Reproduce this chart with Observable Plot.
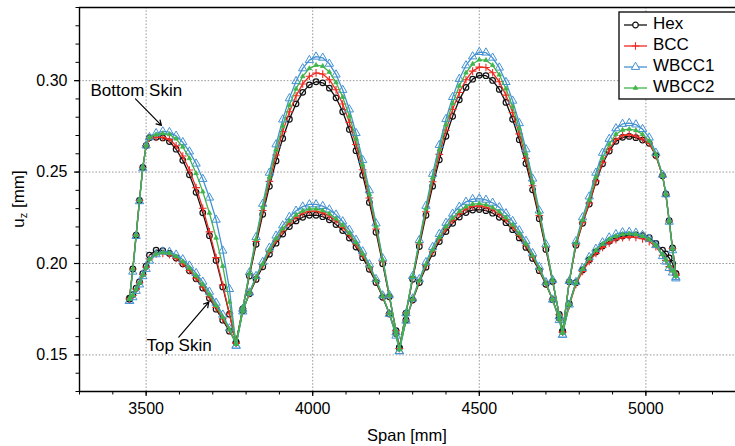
<!DOCTYPE html>
<html><head><meta charset="utf-8">
<script src="https://cdn.jsdelivr.net/npm/d3@7"></script>
<script src="https://cdn.jsdelivr.net/npm/@observablehq/plot@0.6"></script>
<style>
html,body{margin:0;padding:0;background:#fff;}
#chart{width:735px;height:446px;}
</style></head><body><div id="chart"></div>
<script>
const spanMm = [3450,3460,3470,3480,3490,3500,3510,3530,3550,3570,3590,3610,3630,3650,3670,3690,3710,3730,3750,3770,
3790,3810,3830,3850,3870,3890,3910,3930,3950,3970,3990,4010,4030,4050,4070,4090,4110,4130,4150,4170,4190,4210,4230,4250,4260,
4280,4300,4320,4340,4360,4380,4400,4420,4440,4460,4480,4500,4520,4540,4560,4580,4600,4620,4640,4660,4680,4700,4720,4740,4750,
4770,4790,4810,4830,4850,4870,4890,4910,4930,4950,4970,4990,5010,5030,5050,5060,5070,5080,5090];

const bottomHex = [0.1810,0.1970,0.2155,0.2345,0.2525,0.2645,0.2688,0.2690,0.2687,0.2667,0.2625,0.2564,0.2485,0.2389,0.2277,0.2152,0.2017,0.1872,0.1723,0.1570,
0.1752,0.1932,0.2105,0.2269,0.2422,0.2561,0.2684,0.2789,0.2873,0.2936,0.2977,0.2994,0.2988,0.2959,0.2906,0.2830,0.2733,0.2617,0.2483,0.2334,0.2171,0.1999,0.1818,0.1633,0.1540,
0.1728,0.1914,0.2093,0.2264,0.2423,0.2567,0.2696,0.2805,0.2895,0.2963,0.3008,0.3029,0.3027,0.3001,0.2952,0.2881,0.2789,0.2677,0.2547,0.2403,0.2245,0.2077,0.1901,0.1721,0.1630,
0.1900,0.2100,0.2220,0.2325,0.2445,0.2545,0.2615,0.2668,0.2690,0.2695,0.2688,0.2675,0.2657,0.2590,0.2480,0.2380,0.2235,0.2085,0.1945];

const bottomBCC = [0.1810,0.1970,0.2155,0.2345,0.2525,0.2645,0.2685,0.2690,0.2690,0.2679,0.2644,0.2588,0.2511,0.2415,0.2302,0.2173,0.2032,0.1882,0.1725,0.1565,
0.1754,0.1940,0.2120,0.2290,0.2449,0.2593,0.2721,0.2829,0.2917,0.2982,0.3024,0.3042,0.3036,0.3005,0.2950,0.2872,0.2772,0.2651,0.2513,0.2358,0.2189,0.2010,0.1823,0.1632,0.1535,
0.1730,0.1921,0.2107,0.2283,0.2447,0.2597,0.2729,0.2843,0.2935,0.3005,0.3052,0.3074,0.3072,0.3043,0.2994,0.2921,0.2825,0.2709,0.2575,0.2425,0.2262,0.2088,0.1906,0.1719,0.1625,
0.1899,0.2102,0.2223,0.2330,0.2452,0.2553,0.2624,0.2678,0.2700,0.2705,0.2697,0.2680,0.2658,0.2590,0.2478,0.2378,0.2232,0.2082,0.1942];

const bottomWBCC1 = [0.1795,0.1955,0.2150,0.2340,0.2520,0.2645,0.2690,0.2712,0.2722,0.2718,0.2698,0.2663,0.2612,0.2546,0.2462,0.2360,0.2239,0.2070,0.1860,0.1550,
0.1752,0.1951,0.2144,0.2326,0.2496,0.2651,0.2787,0.2903,0.2997,0.3067,0.3112,0.3131,0.3125,0.3092,0.3033,0.2949,0.2842,0.2713,0.2565,0.2400,0.2219,0.2028,0.1828,0.1623,0.1520,
0.1727,0.1931,0.2128,0.2315,0.2490,0.2648,0.2790,0.2910,0.3009,0.3083,0.3132,0.3156,0.3153,0.3125,0.3071,0.2992,0.2890,0.2767,0.2624,0.2464,0.2289,0.2104,0.1910,0.1711,0.1610,
0.1904,0.2121,0.2252,0.2366,0.2496,0.2605,0.2681,0.2739,0.2763,0.2768,0.2760,0.2735,0.2688,0.2605,0.2485,0.2378,0.2228,0.2072,0.1925];

const bottomWBCC2 = [0.1810,0.1970,0.2155,0.2345,0.2525,0.2645,0.2690,0.2705,0.2711,0.2706,0.2682,0.2638,0.2575,0.2493,0.2393,0.2276,0.2140,0.1986,0.1790,0.1560,
0.1755,0.1947,0.2133,0.2309,0.2473,0.2622,0.2753,0.2865,0.2955,0.3023,0.3067,0.3085,0.3079,0.3047,0.2990,0.2910,0.2806,0.2682,0.2539,0.2379,0.2205,0.2020,0.1828,0.1630,0.1530,
0.1730,0.1928,0.2118,0.2300,0.2469,0.2623,0.2759,0.2876,0.2971,0.3043,0.3091,0.3114,0.3112,0.3084,0.3032,0.2956,0.2857,0.2738,0.2600,0.2445,0.2277,0.2097,0.1910,0.1717,0.1620,
0.1903,0.2112,0.2238,0.2348,0.2473,0.2578,0.2651,0.2707,0.2730,0.2735,0.2728,0.2706,0.2670,0.2597,0.2482,0.2380,0.2232,0.2080,0.1938];

const topHex = [0.1805,0.1830,0.1865,0.1900,0.1945,0.1985,0.2045,0.2073,0.2070,0.2055,0.2030,0.1998,0.1960,0.1916,0.1866,0.1810,0.1750,0.1690,0.1630,0.1570,
0.1741,0.1834,0.1913,0.1982,0.2051,0.2111,0.2161,0.2202,0.2233,0.2253,0.2264,0.2264,0.2256,0.2239,0.2213,0.2180,0.2139,0.2090,0.2032,0.1968,0.1896,0.1815,0.1724,0.1617,0.1540,
0.1691,0.1800,0.1896,0.1980,0.2055,0.2120,0.2175,0.2220,0.2254,0.2279,0.2292,0.2295,0.2289,0.2275,0.2253,0.2223,0.2185,0.2140,0.2088,0.2028,0.1961,0.1886,0.1802,0.1701,0.1630,
0.1780,0.1895,0.1965,0.2020,0.2063,0.2096,0.2121,0.2139,0.2150,0.2155,0.2156,0.2152,0.2142,0.2110,0.2073,0.2052,0.2030,0.2000,0.1945];

const topBCC = [0.1805,0.1825,0.1860,0.1895,0.1940,0.1980,0.2025,0.2052,0.2055,0.2048,0.2028,0.1998,0.1962,0.1920,0.1872,0.1818,0.1760,0.1698,0.1635,0.1565,
0.1742,0.1838,0.1921,0.1993,0.2065,0.2127,0.2179,0.2222,0.2253,0.2275,0.2286,0.2286,0.2277,0.2260,0.2234,0.2199,0.2156,0.2105,0.2046,0.1979,0.1904,0.1820,0.1726,0.1615,0.1535,
0.1691,0.1804,0.1903,0.1990,0.2067,0.2134,0.2191,0.2237,0.2273,0.2298,0.2312,0.2315,0.2308,0.2294,0.2271,0.2240,0.2201,0.2154,0.2100,0.2038,0.1968,0.1891,0.1803,0.1699,0.1625,
0.1770,0.1885,0.1957,0.2012,0.2055,0.2088,0.2113,0.2130,0.2141,0.2145,0.2143,0.2135,0.2120,0.2092,0.2045,0.2017,0.1983,0.1958,0.1935];

const topWBCC1 = [0.1795,0.1815,0.1850,0.1885,0.1930,0.1970,0.2015,0.2050,0.2065,0.2063,0.2048,0.2022,0.1988,0.1947,0.1900,0.1845,0.1785,0.1720,0.1645,0.1550,
0.1737,0.1841,0.1931,0.2008,0.2086,0.2152,0.2208,0.2254,0.2288,0.2311,0.2323,0.2323,0.2314,0.2295,0.2267,0.2230,0.2184,0.2129,0.2066,0.1995,0.1914,0.1825,0.1724,0.1605,0.1520,
0.1687,0.1808,0.1914,0.2007,0.2090,0.2161,0.2222,0.2272,0.2310,0.2337,0.2352,0.2355,0.2348,0.2332,0.2307,0.2274,0.2232,0.2181,0.2123,0.2056,0.1981,0.1897,0.1802,0.1690,0.1610,
0.1775,0.1898,0.1975,0.2035,0.2080,0.2115,0.2142,0.2160,0.2170,0.2172,0.2168,0.2155,0.2135,0.2100,0.2040,0.2010,0.1975,0.1950,0.1918];

const topWBCC2 = [0.1805,0.1825,0.1860,0.1893,0.1938,0.1978,0.2022,0.2052,0.2060,0.2056,0.2038,0.2010,0.1975,0.1933,0.1885,0.1830,0.1770,0.1707,0.1640,0.1560,
0.1740,0.1839,0.1924,0.1998,0.2072,0.2136,0.2190,0.2233,0.2266,0.2288,0.2299,0.2299,0.2290,0.2272,0.2245,0.2210,0.2166,0.2114,0.2053,0.1985,0.1908,0.1822,0.1726,0.1612,0.1530,
0.1689,0.1805,0.1906,0.1995,0.2074,0.2143,0.2201,0.2249,0.2285,0.2311,0.2325,0.2328,0.2321,0.2306,0.2283,0.2251,0.2211,0.2163,0.2107,0.2044,0.1972,0.1893,0.1803,0.1696,0.1620,
0.1775,0.1895,0.1970,0.2028,0.2072,0.2106,0.2133,0.2150,0.2160,0.2163,0.2160,0.2150,0.2132,0.2100,0.2050,0.2020,0.1985,0.1960,0.1930];

const seriesNames = ["Hex", "BCC", "WBCC1", "WBCC2"];
const seriesColors = ["#111111", "#ee2b22", "#4592d3", "#3fb54a"];
const xTicks = [3500, 4000, 4500, 5000];
const yTicks = [0.15, 0.20, 0.25, 0.30];
const xMinorTicks = [3300,3400,3500,3600,3700,3800,3900,4000,4100,4200,4300,4400,4500,4600,4700,4800,4900,5000,5100,5200];
const yMinorTicks = [0.13,0.14,0.15,0.16,0.17,0.18,0.19,0.20,0.21,0.22,0.23,0.24,0.25,0.26,0.27,0.28,0.29,0.30,0.31,0.32,0.33,0.34];
const annotationLabels = ["Bottom Skin", "Top Skin"];
const annotationX = [3333, 3501];
const annotationY = [0.2946, 0.1552];
const arrowX1 = [3468, 3598];
const arrowY1 = [0.2900, 0.1597];
const arrowX2 = [3546, 3688];
const arrowY2 = [0.2755, 0.1789];

const bottomSets = {Hex: bottomHex, BCC: bottomBCC, WBCC1: bottomWBCC1, WBCC2: bottomWBCC2};
const topSets = {Hex: topHex, BCC: topBCC, WBCC1: topWBCC1, WBCC2: topWBCC2};

const rows = [];
for (const name of seriesNames) {
  spanMm.forEach((s, i) => rows.push({series: name, skin: "Bottom", span: s, uz: bottomSets[name][i]}));
  spanMm.forEach((s, i) => rows.push({series: name, skin: "Top", span: s, uz: topSets[name][i]}));
}
const annotations = annotationLabels.map((t, i) => ({text: t, x: annotationX[i], y: annotationY[i]}));
const arrows = arrowX1.map((x, i) => ({x1: x, y1: arrowY1[i], x2: arrowX2[i], y2: arrowY2[i]}));

const markerStyle = {
  Hex:   {symbol: "circle", r: 2.8, fill: "none", strokeWidth: 1.2},
  BCC:   {symbol: "plus", r: 2.6, fill: "none", strokeWidth: 1.1},
  WBCC1: {symbol: "triangle", r: 3.1, fill: "none", strokeWidth: 1.0},
  WBCC2: {symbol: "triangle", r: 1.7, fill: "currentColor", strokeWidth: 0.8}
};

const FONT = "'Liberation Sans', Arial, Helvetica, sans-serif";
const marks = [
  Plot.gridX(xTicks, {stroke: "#8a8a8a", strokeOpacity: 1, strokeWidth: 0.9, strokeDasharray: "1.5,1.8"}),
  Plot.gridY(yTicks, {stroke: "#8a8a8a", strokeOpacity: 1, strokeWidth: 0.9, strokeDasharray: "1.5,1.8"}),
  Plot.axisX(xMinorTicks, {tickSize: 3.5, tickFormat: () => "", label: null, strokeWidth: 1}),
  Plot.axisX(xTicks, {tickSize: 5, tickPadding: 6, tickFormat: d => String(d), fontSize: 16, label: null, strokeWidth: 1.2}),
  Plot.axisY(yMinorTicks, {tickSize: 3.5, tickFormat: () => "", label: null, strokeWidth: 1}),
  Plot.axisY(yTicks, {tickSize: 5, tickPadding: 7, tickFormat: d3.format(".2f"), fontSize: 16, label: null, strokeWidth: 1.2}),
  Plot.ruleX([3300], {stroke: "#000", strokeWidth: 1.4}),
  Plot.ruleY([0.13], {stroke: "#000", strokeWidth: 1.4}),
  Plot.ruleY([0.34], {stroke: "#000", strokeWidth: 1.4})
];
seriesNames.forEach((name, k) => {
  const data = rows.filter(d => d.series === name);
  const col = seriesColors[k];
  const ms = markerStyle[name];
  marks.push(Plot.line(data, {x: "span", y: "uz", z: "skin", stroke: col, strokeWidth: 1.3}));
  marks.push(Plot.dot(data, {x: "span", y: "uz", symbol: ms.symbol, r: ms.r, stroke: col,
    fill: ms.fill === "currentColor" ? col : ms.fill, strokeWidth: ms.strokeWidth}));
});
marks.push(Plot.arrow(arrows, {x1: "x1", y1: "y1", x2: "x2", y2: "y2", stroke: "#000", strokeWidth: 1.2, headLength: 7, inset: 0}));
marks.push(Plot.text(annotations, {x: "x", y: "y", text: "text", textAnchor: "start", lineAnchor: "middle", fontSize: 17, fill: "#000"}));

const chart = Plot.plot({
  width: 735, height: 446,
  marginLeft: 79, marginRight: 0, marginTop: 7, marginBottom: 55,
  x: {domain: [3300, 5269]},
  y: {domain: [0.13, 0.34]},
  style: {fontFamily: FONT, fontSize: "16px", background: "#fff", color: "#000", overflow: "visible"},
  marks
});
document.getElementById("chart").appendChild(chart);

const svg = d3.select(chart);
// axis titles
svg.append("text").attr("x", 407).attr("y", 437).attr("text-anchor", "middle")
  .attr("dominant-baseline", "middle").style("font", `16.5px ${FONT}`).attr("fill", "#000").text("Span [mm]");
const yl = svg.append("text").attr("transform", "translate(20,199) rotate(-90)").attr("text-anchor", "middle")
  .style("font", `17px ${FONT}`).attr("fill", "#000").attr("dominant-baseline", "middle");
yl.append("tspan").text("u");
yl.append("tspan").attr("dy", 4).style("font-size", "11px").text("z");
yl.append("tspan").attr("dy", -4).text(" [mm]");

// legend
const lg = svg.append("g").attr("text-anchor", "start");
lg.append("rect").attr("x", 619).attr("y", 12).attr("width", 118).attr("height", 87)
  .attr("fill", "#fff").attr("stroke", "#000").attr("stroke-width", 1.3);
const symMap = {circle: d3.symbolCircle, plus: d3.symbolPlus, triangle: d3.symbolTriangle};
seriesNames.forEach((name, k) => {
  const cy = 25 + k * 21;
  const col = seriesColors[k];
  const ms = markerStyle[name];
  lg.append("line").attr("x1", 624).attr("x2", 647).attr("y1", cy).attr("y2", cy)
    .attr("stroke", col).attr("stroke-width", 1.3);
  lg.append("path").attr("transform", `translate(635.5,${cy})`)
    .attr("d", d3.symbol(symMap[ms.symbol], Math.PI * ms.r * ms.r)())
    .attr("fill", ms.fill === "currentColor" ? col : (ms.fill === "none" ? "#fff" : ms.fill))
    .attr("stroke", col).attr("stroke-width", ms.strokeWidth);
  lg.append("text").attr("x", 653).attr("y", cy).attr("text-anchor", "start").attr("dominant-baseline", "middle")
    .style("font", `17px ${FONT}`).attr("fill", "#000").text(name);
});
</script>
</body></html>
